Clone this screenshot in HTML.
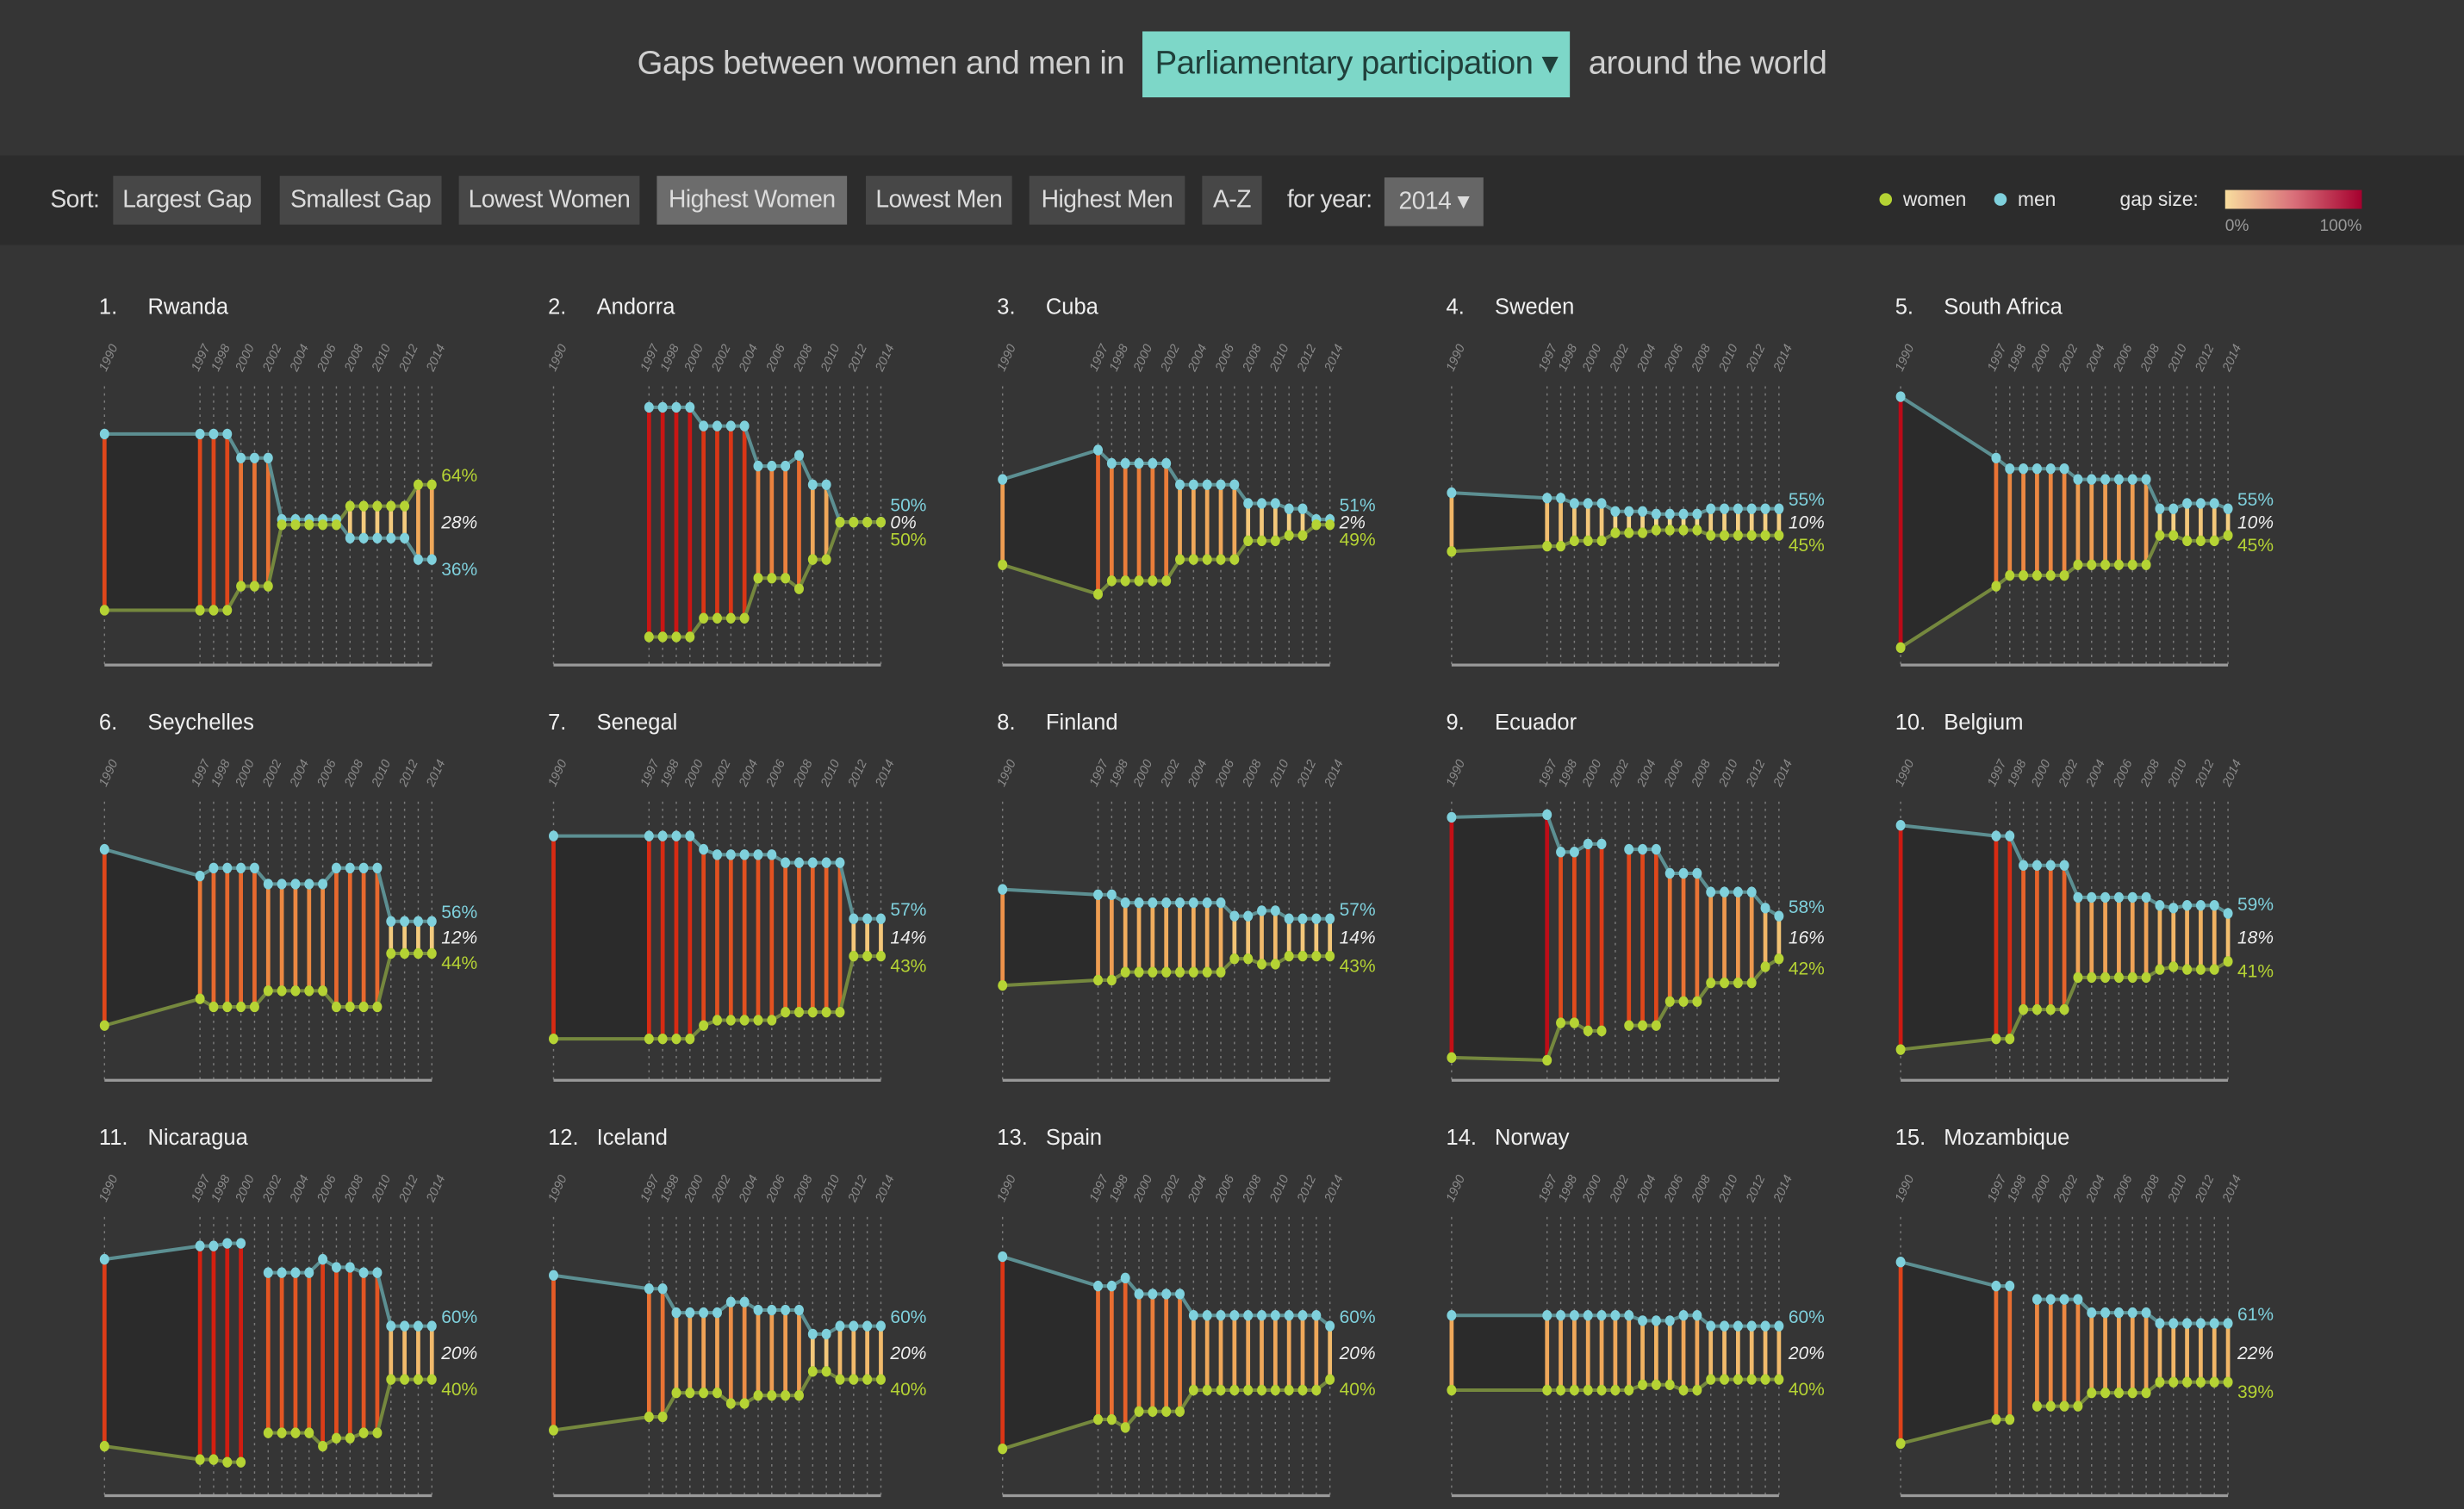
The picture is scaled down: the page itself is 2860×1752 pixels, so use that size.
<!DOCTYPE html>
<html><head><meta charset="utf-8">
<style>
html,body{margin:0;padding:0;background:#353535;overflow:hidden}
body{width:2860px;height:1752px;position:relative}
#wrap{position:absolute;left:0;top:0;width:1568px;height:961px;transform:scale(1.82398,1.8231);transform-origin:0 0;font-family:"Liberation Sans",sans-serif;background:#353535}
#title{position:absolute;top:20px;left:0;width:1568px;height:42px;text-align:center;font-size:21px;color:#cfcfcf;line-height:42px;letter-spacing:-0.3px}
#title .dd{display:inline-block;background:#7dd7c8;color:#20403b;padding:0 8px;margin:0 6px;height:42px}
#sortbar{position:absolute;top:99px;left:0;width:1568px;height:57px;background:#2c2c2c}
.b{position:absolute;top:13px;height:31px;line-height:31px;background:#474747;color:#dcdcdc;font-size:15.5px;text-align:center;letter-spacing:-0.3px}
.b.on{background:#6c6c6c}
.lbl{position:absolute;color:#dcdcdc;font-size:15.5px;line-height:31px;top:13px;letter-spacing:-0.3px}
svg{position:absolute;left:0;top:0}
</style></head><body>
<div id="wrap">
<div id="title">Gaps between women and men in <span class="dd">Parliamentary participation ▾</span> around the world</div>
<div id="sortbar">
<span class="lbl" style="left:32px">Sort:</span>
<span class="b" style="left:72px;width:94px">Largest Gap</span>
<span class="b" style="left:178px;width:103px">Smallest Gap</span>
<span class="b" style="left:292px;width:115px">Lowest Women</span>
<span class="b on" style="left:418px;width:121px">Highest Women</span>
<span class="b" style="left:551px;width:93px">Lowest Men</span>
<span class="b" style="left:655px;width:99px">Highest Men</span>
<span class="b" style="left:765px;width:38px">A-Z</span>
<span class="lbl" style="left:819px">for year:</span>
<span class="b" style="left:881px;width:63px;background:#666;top:14px">2014 ▾</span>
<svg width="1568" height="57" style="left:0;top:0">
<defs><linearGradient id="lg" x1="0" x2="1"><stop offset="0" stop-color="#f8dd9e"/><stop offset="0.5" stop-color="#d9707a"/><stop offset="1" stop-color="#a5002e"/></linearGradient></defs>
<circle cx="1200" cy="28" r="4" fill="#b5d334"/>
<text x="1211" y="32" fill="#e6e6e6" font-size="12.5" font-family="Liberation Sans">women</text>
<circle cx="1273" cy="28" r="4" fill="#7fd0dc"/>
<text x="1284" y="32" fill="#e6e6e6" font-size="12.5" font-family="Liberation Sans">men</text>
<text x="1349" y="32" fill="#e6e6e6" font-size="12.5" font-family="Liberation Sans">gap size:</text>
<rect x="1416" y="22" width="87" height="12" fill="url(#lg)"/>
<text x="1416" y="48" fill="#999" font-size="10.5" font-family="Liberation Sans">0%</text>
<text x="1503" y="48" fill="#999" font-size="10.5" font-family="Liberation Sans" text-anchor="end">100%</text>
</svg>
</div>
<svg id="charts" width="1568" height="961"></svg>
</div>
<script>
const years = [1990,1997,1998,1999,2000,2001,2002,2003,2004,2005,2006,2007,2008,2009,2010,2011,2012,2013,2014];
const yearTicks = ["1990","1997","1998","2000","2002","2004","2006","2008","2010","2012","2014"];
const countries = ["Rwanda","Andorra","Cuba","Sweden","South Africa","Seychelles","Senegal","Finland","Ecuador","Belgium","Nicaragua","Iceland","Spain","Norway","Mozambique"];
const womenRwanda = [17,17,17,17,26,26,26,49,49,49,49,49,56,56,56,56,56,64,64];
const womenAndorra = [null,7,7,7,7,14,14,14,14,29,29,29,25,36,36,50,50,50,50];
const womenCuba = [34,23,28,28,28,28,28,36,36,36,36,36,43,43,43,45,45,49,49];
const womenSweden = [39,41,41,43,43,43,46,46,46,47,47,47,47,45,45,45,45,45,45];
const womenSouthAfrica = [3,26,30,30,30,30,30,34,34,34,34,34,34,45,45,43,43,43,45];
const womenSeychelles = [17,27,24,24,24,24,30,30,30,30,30,24,24,24,24,44,44,44,44];
const womenSenegal = [12,12,12,12,12,17,19,19,19,19,19,22,22,22,22,22,43,43,43];
const womenFinland = [32,34,34,37,37,37,37,37,37,37,37,42,42,40,40,43,43,43,43];
const womenEcuador = [5,4,18,18,15,15,null,17,17,17,26,26,26,33,33,33,33,39,42];
const womenBelgium = [8,12,12,23,23,23,23,35,35,35,35,35,35,38,39,38,38,38,41];
const womenNicaragua = [15,10,10,9,9,null,20,20,20,20,15,18,18,20,20,40,40,40,40];
const womenIceland = [21,26,26,35,35,35,35,31,31,34,34,34,34,43,43,40,40,40,40];
const womenSpain = [14,25,25,22,28,28,28,28,36,36,36,36,36,36,36,36,36,36,40];
const womenNorway = [36,36,36,36,36,36,36,36,38,38,38,36,36,40,40,40,40,40,40];
const womenMozambique = [16,25,25,null,30,30,30,30,35,35,35,35,35,39,39,39,39,39,39];
const womenSeries = [womenRwanda,womenAndorra,womenCuba,womenSweden,womenSouthAfrica,womenSeychelles,womenSenegal,womenFinland,womenEcuador,womenBelgium,womenNicaragua,womenIceland,womenSpain,womenNorway,womenMozambique];

const NS = "http://www.w3.org/2000/svg";
const svg = document.getElementById("charts");
function mk(tag, attrs, parent){const e=document.createElementNS(NS,tag);for(const k in attrs)e.setAttribute(k,attrs[k]);(parent||svg).appendChild(e);return e;}
function lerp(a,b,t){return a+(b-a)*t;}
const stops=[[0,[246,228,154]],[0.25,[240,176,96]],[0.45,[234,122,56]],[0.65,[224,74,28]],[0.8,[212,32,16]],[1,[176,0,28]]];
function gapColor(g){const t=Math.max(0,Math.min(1,g/100));for(let i=1;i<stops.length;i++){if(t<=stops[i][0]){const a=stops[i-1],b=stops[i];const u=(t-a[0])/(b[0]-a[0]);return "rgb("+[0,1,2].map(j=>Math.round(lerp(a[1][j],b[1][j],u))).join(",")+")";}}return "rgb(176,0,28)";}

countries.forEach((name,i)=>{
  const c=i%5, r=Math.floor(i/5);
  const ox=285.75*c, oy=264.5*r;
  const xS=yr=>66.5+ox+(yr-1990)*8.68;
  const yS=v=>417.5+oy-v*1.7;
  const g=mk("g",{});
  
  
  const num=mk("text",{x:63+ox,y:200+oy,fill:"#f0f0f0","font-size":14,"font-family":"Liberation Sans"},g);
  num.textContent=(i+1)+".";
  
  
  const tt=mk("text",{x:94+ox,y:200+oy,fill:"#f0f0f0","font-size":14,"font-family":"Liberation Sans"},g);
  tt.textContent=name;
  
  
  yearTicks.forEach(t=>{
    const yr=+t; const x=xS(yr)+(yr===1997?-2:(yr===1998?2:0));
    const tx=mk("text",{x:0,y:0,fill:"#8a8a8a","font-size":8,"font-family":"Liberation Sans","font-style":"italic","text-anchor":"start",transform:"translate("+(x+1)+","+(237+oy)+") rotate(-65)"},g);
    tx.textContent=t;
    
    
  });
  years.forEach(yr=>{
    const gl=mk("line",{x1:xS(yr),x2:xS(yr),y1:246+oy,y2:423+oy,stroke:"#7a7a7a","stroke-width":0.8,"stroke-dasharray":"1.5 3"},g);
    
    
  });
  const base=mk("line",{x1:xS(1990),x2:xS(2014),y1:423.5+oy,y2:423.5+oy,stroke:"#9a9a9a","stroke-width":1.8},g);
  
  
  const w=womenSeries[i];
  const m=w.map(v=>v===null?null:100-v);
  if(w[0]!==null&&w[1]!==null){
    const pg=mk("polygon",{points:[[xS(years[0]),yS(m[0])],[xS(years[1]),yS(m[1])],[xS(years[1]),yS(w[1])],[xS(years[0]),yS(w[0])]].map(p=>p.join(",")).join(" "),fill:"#2b2b2b"},g);
    
    
  }
  years.forEach((yr,k)=>{
    if(w[k]===null)return;
    const bar=mk("line",{x1:xS(yr),x2:xS(yr),y1:yS(m[k]),y2:yS(w[k]),stroke:gapColor(Math.abs(m[k]-w[k])),"stroke-width":2.6},g);
    
    
  });
  for(let k=1;k<years.length;k++){
    if(w[k]===null||w[k-1]===null)continue;
    const lm=mk("line",{x1:xS(years[k-1]),x2:xS(years[k]),y1:yS(m[k-1]),y2:yS(m[k]),stroke:"#5c8f92","stroke-width":2.2},g);
    
    
    const lw=mk("line",{x1:xS(years[k-1]),x2:xS(years[k]),y1:yS(w[k-1]),y2:yS(w[k]),stroke:"#75883e","stroke-width":2.2},g);
    
    
  }
  years.forEach((yr,k)=>{
    if(w[k]===null)return;
    const dm=mk("ellipse",{cx:xS(yr),cy:yS(m[k]),rx:3,ry:3.4,fill:"#7fd0dc"},g);
    
    
    const dw=mk("ellipse",{cx:xS(yr),cy:yS(w[k]),rx:3,ry:3.4,fill:"#b5d334"},g);
    
    
  });
  const L=years.length-1, wl=w[L], ml=m[L];
  const yM=yS(ml), yW=yS(wl), mid=(yM+yW)/2;
  const menTop = ml>=wl;
  const yTop=Math.min(yM,yW), yBot=Math.max(yM,yW);
  const topY=Math.min(yTop-6,mid-11), botY=Math.max(yBot+6,mid+11);
  const lx=xS(2014)+6;
  const lt=mk("text",{x:lx,y:topY+4,fill:menTop?"#7fd0dc":"#b5d334","font-size":11.5,"font-family":"Liberation Sans"},g);
  lt.textContent=(menTop?ml:wl)+"%";
  
  
  const lg=mk("text",{x:lx,y:mid+4,fill:"#eeeeee","font-size":11.5,"font-family":"Liberation Sans","font-style":"italic"},g);
  lg.textContent=Math.abs(ml-wl)+"%";
  
  
  const lb=mk("text",{x:lx,y:botY+4,fill:menTop?"#b5d334":"#7fd0dc","font-size":11.5,"font-family":"Liberation Sans"},g);
  lb.textContent=(menTop?wl:ml)+"%";
  
  
});
</script>
</body></html>
